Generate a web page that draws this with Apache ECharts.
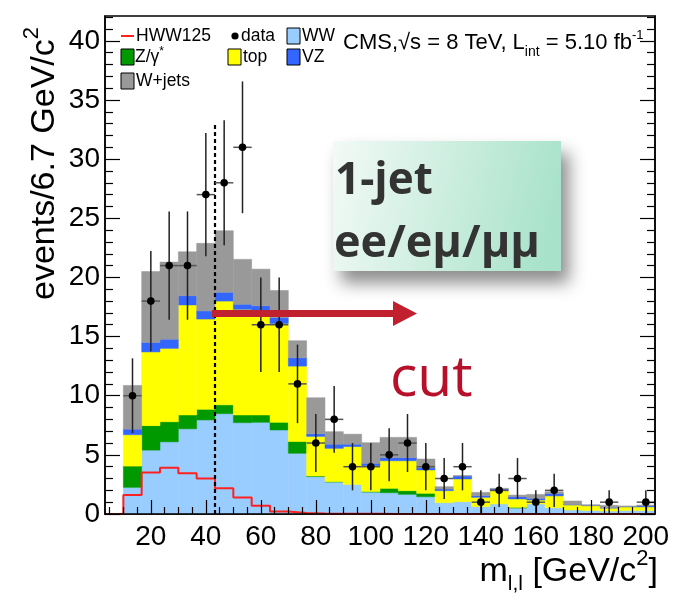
<!DOCTYPE html>
<html><head><meta charset="utf-8">
<script src="https://cdn.jsdelivr.net/npm/echarts@6/dist/echarts.min.js"></script>
<style>html,body{margin:0;padding:0;background:#fff}#c{width:687px;height:606px}</style>
</head><body><div id="c"></div>
<script>
// ---- binning / axes ----
const binStart = 10;
const binWidth = 20 / 3;
const nBins = 29;
const xMin = 10 / 3, xMax = 610 / 3;
const yMin = 0, yMax = 42.1;
const cutValue = 130 / 3;
const cutLineTop = 33;
const xMajorTicks = [20, 40, 60, 80, 100, 120, 140, 160, 180, 200];
const xMinorTicks = [5, 10, 15, 25, 30, 35, 45, 50, 55, 65, 70, 75, 85, 90, 95, 105, 110, 115, 125, 130, 135, 145, 150, 155, 165, 170, 175, 185, 190, 195];
const yMajorTicks = [0, 5, 10, 15, 20, 25, 30, 35, 40];
const yMinorTicks = [1, 2, 3, 4, 6, 7, 8, 9, 11, 12, 13, 14, 16, 17, 18, 19, 21, 22, 23, 24, 26, 27, 28, 29, 31, 32, 33, 34, 36, 37, 38, 39, 41, 42];

// ---- stacked backgrounds (events per bin) ----
const ww     = [2.25, 5.4, 6.1, 7.2, 7.95, 8.48, 7.72, 7.75, 7.1, 5.13, 3.16, 2.7, 2.5, 1.85, 1.8, 1.66, 1.46, 0.96, 1.04, 0.62, 0.85, 0.5, 0.85, 0.53, 0.34, 0.3, 0.25, 0.3, 0.3];
const zgamma = [1.8, 2.07, 1.7, 1.17, 0.9, 0.75, 0.65, 0.62, 0.65, 1.0, 0.05, 0.03, 0.0, 0.05, 0.37, 0.31, 0.29, 0, 0, 0, 0, 0.06, 0, 0, 0, 0, 0, 0, 0];
const topQ   = [2.65, 6.23, 6.2, 9.3, 7.63, 8.77, 8.93, 8.79, 8.35, 6.37, 3.35, 2.82, 3.2, 2.18, 2.33, 2.53, 1.97, 1.01, 1.92, 0.79, 1.12, 0.71, 0.33, 1.0, 0.42, 0.4, 0.25, 0.3, 0.3];
const vz     = [0.47, 0.8, 0.77, 0.78, 0.68, 0.74, 0.43, 0.44, 0.5, 0.7, 0.22, 0.35, 0.2, 0.2, 0.26, 0.26, 0.18, 0.14, 0.25, 0.14, 0.14, 0.19, 0.14, 0.2, 0.04, 0.03, 0.03, 0.03, 0.1];
const wjets  = [3.7, 6.0, 6.53, 3.72, 5.72, 5.21, 3.8, 3.1, 2.3, 1.45, 3.05, 1.06, 0.85, 1.75, 1.72, 1.72, 0.75, 0.2, 0.03, 0.28, 0.06, 0.14, 0.34, 0.15, 0.3, 0.05, 0.2, 0.05, 0.05];
// ---- signal (overlaid) ----
const hww    = [1.6, 3.5, 3.9, 3.45, 3.0, 2.17, 1.4, 0.7, 0.22, 0.08, 0.05, 0.03, 0.02, 0.02, 0.01, 0.01, 0.01, 0, 0, 0, 0, 0, 0, 0, 0, 0, 0, 0, 0];
// ---- data ----
const dataCounts = [10, 18, 21, 21, 27, 28, 31, 16, 16, 11, 6, 8, 4, 4, 5, 6, 4, 3, 4, 1, 2, 3, 1, 2, 0, 0, 1, 0, 1];
const dataErr    = [3.16, 4.24, 4.58, 4.58, 5.2, 5.29, 5.57, 4, 4, 3.32, 2.45, 2.83, 2, 2, 2.24, 2.45, 2, 1.73, 2, 1, 1.41, 1.73, 1, 1.41, 0, 0, 1, 0, 1];

const components = [
  { name: 'WW', values: ww, color: '#99ccff' },
  { name: 'Z/γ*', values: zgamma, color: '#009900' },
  { name: 'top', values: topQ, color: '#ffff00' },
  { name: 'VZ', values: vz, color: '#3366ff' },
  { name: 'W+jets', values: wjets, color: '#999999' }
];

const FAMILY = "'Liberation Sans', Arial, Helvetica, sans-serif";

function stackSeries(idx) {
  const comp = components[idx];
  const data = [];
  for (let i = 0; i < nBins; i++) {
    let lo = 0;
    for (let k = 0; k < idx; k++) lo += components[k].values[i];
    data.push([binStart + i * binWidth, binStart + (i + 1) * binWidth, lo, lo + comp.values[i]]);
  }
  return {
    type: 'custom', name: comp.name, xAxisIndex: 0, yAxisIndex: 0, z: 2,
    data: data, encode: { x: [0, 1], y: [2, 3] }, clip: true, silent: true,
    renderItem: function (params, api) {
      const p0 = api.coord([api.value(0), api.value(3)]);
      const p1 = api.coord([api.value(1), api.value(2)]);
      if (p1[1] - p0[1] <= 0) return null;
      return {
        type: 'rect',
        shape: { x: p0[0], y: p0[1], width: p1[0] - p0[0], height: p1[1] - p0[1] },
        style: { fill: comp.color, stroke: comp.color, lineWidth: 0.5 }
      };
    }
  };
}

// HWW step line points (left edges + closing right edge)
const hwwPts = [[xMin, 0]];
for (let i = 0; i < nBins; i++) hwwPts.push([binStart + i * binWidth, hww[i]]);
hwwPts.push([binStart + nBins * binWidth, hww[nBins - 1]]);

// data points
const dataPts = [];
for (let i = 0; i < nBins; i++) {
  if (dataCounts[i] > 0) {
    dataPts.push([binStart + (i + 0.5) * binWidth, dataCounts[i], dataErr[i], binStart + i * binWidth, binStart + (i + 1) * binWidth]);
  }
}

// ---- text helpers ----
const meas = document.createElement('canvas').getContext('2d');
function textWidth(t, font) { meas.font = font; return meas.measureText(t).width; }
function runTexts(pieces, x0, y0, family, fill) {
  let x = 0; const out = [];
  for (const p of pieces) {
    const font = (p.weight || 'normal') + ' ' + p.size + 'px ' + family;
    out.push({
      type: 'text', x: x0 + x, y: y0 + (p.dy || 0), z: 100,
      style: { text: p.t, font: font, fill: p.fill || fill || '#000', textAlign: 'left', textVerticalAlign: 'middle', align: 'left', verticalAlign: 'middle' }
    });
    x += textWidth(p.t, font);
  }
  return { els: out, width: x };
}

const graphics = [];
// Legend
const LF = 17.5;
function legBox(x, y, color) {
  return { type: 'rect', z: 100, shape: { x: x, y: y, width: 13, height: 16 }, style: { fill: color, stroke: '#000', lineWidth: 1 } };
}
graphics.push({ type: 'line', z: 100, shape: { x1: 121, y1: 36, x2: 134, y2: 36 }, style: { stroke: '#ff2020', lineWidth: 2 } });
graphics.push(...runTexts([{ t: 'HWW125', size: LF }], 136, 36, FAMILY).els);
graphics.push({ type: 'circle', z: 100, shape: { cx: 235, cy: 36, r: 3.6 }, style: { fill: '#000' } });
graphics.push(...runTexts([{ t: 'data', size: LF }], 241, 36, FAMILY).els);
graphics.push(legBox(287, 28, '#99ccff'));
graphics.push(...runTexts([{ t: 'WW', size: LF }], 302, 36, FAMILY).els);
graphics.push(legBox(121, 49, '#009900'));
graphics.push(...runTexts([{ t: 'Z/γ', size: LF }, { t: '*', size: 12, dy: -5 }], 135, 57, FAMILY).els);
graphics.push(legBox(228, 49, '#ffff00'));
graphics.push(...runTexts([{ t: 'top', size: LF }], 243, 57, FAMILY).els);
graphics.push(legBox(287, 49, '#3366ff'));
graphics.push(...runTexts([{ t: 'VZ', size: LF }], 302, 57, FAMILY).els);
graphics.push(legBox(121, 73, '#999999'));
graphics.push(...runTexts([{ t: 'W+jets', size: LF }], 136, 81, FAMILY).els);

// CMS label
graphics.push(...runTexts([
  { t: 'CMS,√s = 8 TeV, L', size: 22 },
  { t: 'int', size: 14, dy: 9 },
  { t: ' = 5.10 fb', size: 22 },
  { t: '-1', size: 13, dy: -8 }
], 343, 43, FAMILY).els);

// Y axis title (rotated)
const yTitle = runTexts([
  { t: 'events/6.7 GeV/c', size: 34 },
  { t: '2', size: 22, dy: -13 }
], 0, 0, FAMILY);
graphics.push({ type: 'group', x: 45, y: 300, rotation: Math.PI / 2, z: 100, children: yTitle.els });

// X axis title
const xPieces = [
  { t: 'm', size: 34 },
  { t: 'l,l', size: 21, dy: 12 },
  { t: ' [GeV/c', size: 34 },
  { t: '2', size: 22, dy: -13 },
  { t: ']', size: 34 }
];
const xTw = runTexts(xPieces, 0, 0, FAMILY).width;
graphics.push(...runTexts(xPieces, 658 - xTw, 572, FAMILY).els);

// Annotation box
graphics.push({
  type: 'rect', z: 100, shape: { x: 333, y: 141, width: 228, height: 130 },
  style: {
    fill: new echarts.graphic.LinearGradient(0, 0, 1, 0.4, [{ offset: 0, color: '#f3faf6' }, { offset: 1, color: '#a8e2ca' }]),
    shadowBlur: 16, shadowOffsetX: 8, shadowOffsetY: 12, shadowColor: 'rgba(0,0,0,0.45)'
  }
});
const BOXF = "'Open Sans', 'Noto Sans', sans-serif";
graphics.push(...runTexts([{ t: '1-jet', size: 44, weight: 'bold' }], 335, 181, BOXF, '#333333').els);
graphics.push(...runTexts([{ t: 'ee/eμ/μμ', size: 45, weight: 'bold' }], 334, 244, BOXF, '#333333').els);

// Arrow
graphics.push({
  type: 'polygon', z: 100,
  shape: { points: [[212, 310], [393, 310], [393, 301], [417, 313.5], [393, 326], [393, 317], [212, 317]] },
  style: { fill: '#c1202e' }
});
// cut text
graphics.push(...runTexts([{ t: 'cut', size: 57 }], 390, 380, "'Open Sans', 'Noto Sans', sans-serif", '#b8102a').els);

function axisCommon(extra) {
  return Object.assign({
    type: 'value', z: 10,
    splitLine: { show: false },
    axisLine: { show: false, onZero: false, lineStyle: { color: '#000', width: 1.5 } },
    axisLabel: { show: false },
    axisTick: { show: true, inside: true, lineStyle: { color: '#000', width: 1.2 } }
  }, extra);
}

const option = {
  animation: false,
  backgroundColor: '#fff',
  grid: { left: 105, right: 32, top: 16, bottom: 92, show: true, borderColor: '#000', borderWidth: 1.5, backgroundColor: 'rgba(0,0,0,0)' },
  xAxis: [
    axisCommon({
      min: xMin, max: xMax, position: 'bottom',
      axisLine: { show: true, onZero: false, lineStyle: { color: '#000', width: 1.5 } },
      axisTick: { show: true, inside: true, length: 14, customValues: xMajorTicks, lineStyle: { color: '#000', width: 1.2 } },
      axisLabel: { show: true, customValues: xMajorTicks, margin: 9, color: '#000', fontSize: 28, fontFamily: FAMILY }
    }),
    axisCommon({
      min: xMin, max: xMax, position: 'bottom',
      axisTick: { show: true, inside: true, length: 7, customValues: xMinorTicks, lineStyle: { color: '#000', width: 1.2 } }
    })
  ],
  yAxis: [
    axisCommon({
      min: yMin, max: yMax, position: 'left',
      axisLine: { show: true, onZero: false, lineStyle: { color: '#000', width: 1.5 } },
      axisTick: { show: true, inside: true, length: 15, customValues: yMajorTicks, lineStyle: { color: '#000', width: 1.2 } },
      axisLabel: { show: true, customValues: yMajorTicks, margin: 5, color: '#000', fontSize: 28, fontFamily: FAMILY }
    }),
    axisCommon({
      min: yMin, max: yMax, position: 'left',
      axisTick: { show: true, inside: true, length: 8, customValues: yMinorTicks, lineStyle: { color: '#000', width: 1.2 } }
    }),
    axisCommon({
      min: yMin, max: yMax, position: 'right',
      axisLine: { show: true, onZero: false, lineStyle: { color: '#000', width: 1.5 } },
      axisTick: { show: true, inside: true, length: 15, customValues: yMajorTicks, lineStyle: { color: '#000', width: 1.2 } }
    }),
    axisCommon({
      min: yMin, max: yMax, position: 'right',
      axisTick: { show: true, inside: true, length: 8, customValues: yMinorTicks, lineStyle: { color: '#000', width: 1.2 } }
    })
  ],
  series: [
    stackSeries(0), stackSeries(1), stackSeries(2), stackSeries(3), stackSeries(4),
    {
      type: 'line', name: 'HWW125', data: hwwPts, step: 'end', z: 3, symbol: 'none', silent: true,
      lineStyle: { color: '#ff2020', width: 2 }
    },
    {
      type: 'line', name: 'cut', data: [[cutValue, 0], [cutValue, cutLineTop]], z: 4, symbol: 'none', silent: true,
      lineStyle: { color: '#000', width: 2.2, type: [4, 3] }
    },
    {
      type: 'custom', name: 'data', z: 5, data: dataPts, encode: { x: [0, 3, 4], y: [1] }, silent: true,
      renderItem: function (params, api) {
        const c = api.coord([api.value(0), api.value(1)]);
        const lo = api.coord([api.value(0), api.value(1) - api.value(2)]);
        const hi = api.coord([api.value(0), api.value(1) + api.value(2)]);
        const l = api.coord([api.value(3), api.value(1)]);
        const r = api.coord([api.value(4), api.value(1)]);
        return {
          type: 'group', children: [
            { type: 'line', shape: { x1: l[0], y1: c[1], x2: r[0], y2: c[1] }, style: { stroke: '#555', lineWidth: 1.5 } },
            { type: 'line', shape: { x1: c[0], y1: lo[1], x2: c[0], y2: hi[1] }, style: { stroke: '#222', lineWidth: 1.5 } },
            { type: 'circle', shape: { cx: c[0], cy: c[1], r: 3.8 }, style: { fill: '#000' } }
          ]
        };
      }
    }
  ],
  graphic: { elements: graphics }
};

const chart = echarts.init(document.getElementById('c'), null, { renderer: 'canvas' });
chart.setOption(option);
</script>
</body></html>
